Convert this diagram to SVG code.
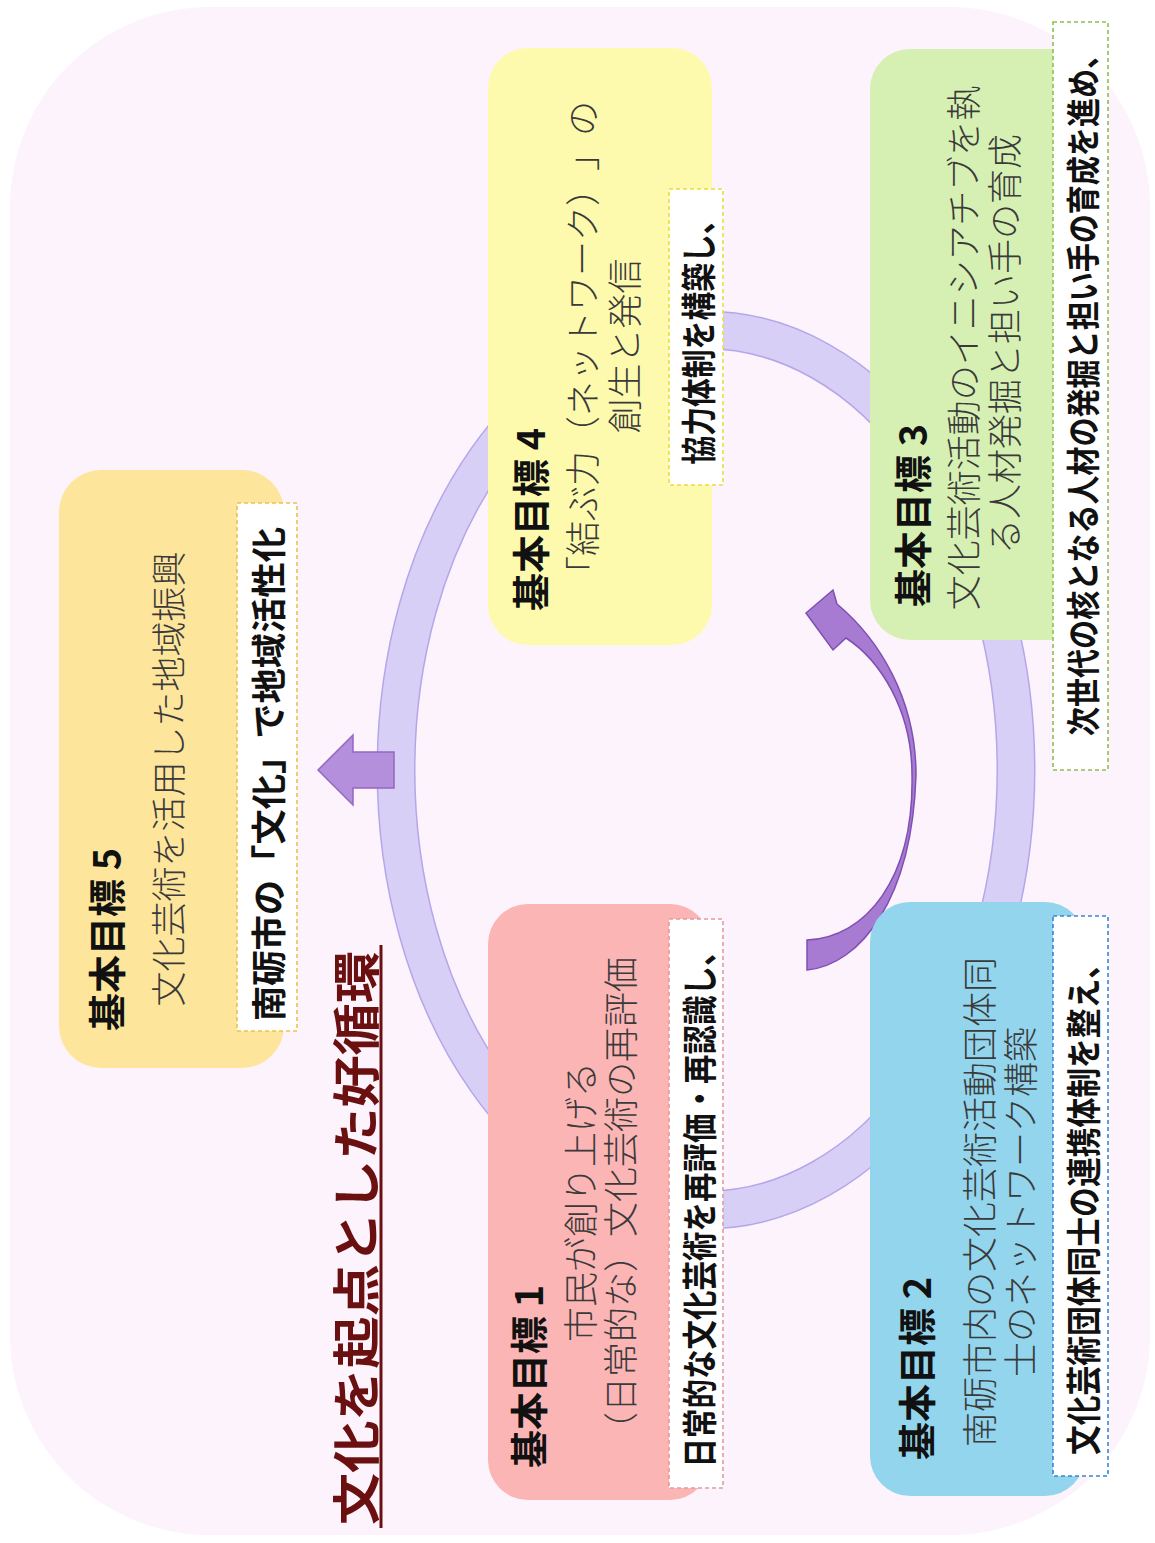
<svg xmlns="http://www.w3.org/2000/svg" width="1155" height="1543" viewBox="0 0 1155 1543">
<style>
text{font-family:"Noto Sans CJK JP","Noto Sans CJK SC",sans-serif;dominant-baseline:central;text-spacing-trim:space-all}
.ttl{font-size:38px;font-weight:700;fill:#111}
.body{font-size:35px;font-weight:300;fill:#3a3a3a}
.lbl{font-size:35px;font-weight:700;fill:#111}
.main{font-size:48px;font-weight:700;fill:#6b1010}
.lblbox{fill:#fff;stroke-width:1.6;stroke-dasharray:4 3}
.ring{fill:none}
.blk{fill:#b48fdc;stroke:#9467c4;stroke-width:1.5}
.crv{fill:#a77bd2;stroke:#7f4fb3;stroke-width:1.5}
</style>
<rect x="10" y="7" width="1140" height="1528" rx="200" ry="200" fill="#fcf3fc"/>

<g id="connectors">
  <ellipse class="ring" cx="706" cy="770" rx="310" ry="440" stroke="#b6a6e9" stroke-width="39"/>
  <ellipse class="ring" cx="706" cy="770" rx="310" ry="440" stroke="#d8cff7" stroke-width="36"/>
  <path class="blk" d="M318,770 L353,735 L353,752 L394,752 L394,788 L353,788 L353,805 Z"/>
  <path class="crv" d="M807,970 C860,965 912,900 916,775 C916,700 880,640 837,604 L833,590 L806,613 L833,650 L846,638 C880,660 912,710 912,775 C914,880 865,938 807,940 Z"/>
</g>

<g id="node-title">
  <text class="main" transform="translate(353,1238) rotate(-90)" text-anchor="middle" textLength="574" lengthAdjust="spacingAndGlyphs">文化を起点とした好循環</text>
  <line x1="381" y1="945" x2="381" y2="1528" stroke="#6b1010" stroke-width="3"/>
</g>

<g id="node-goal5">
  <rect x="59" y="470" width="225" height="598" rx="42" fill="#fde59c"/>
  <text class="ttl" transform="translate(104,1031) rotate(-90)">基本目標 5</text>
  <text class="body" transform="translate(166,779) rotate(-90)" text-anchor="middle">文化芸術を活用した地域振興</text>
  <rect class="lblbox" x="237" y="503" width="60" height="528" stroke="#eec24a"/>
  <text class="lbl" transform="translate(266,774) rotate(-90)" text-anchor="middle" textLength="494" lengthAdjust="spacingAndGlyphs">南砺市の「文化」で地域活性化</text>
</g>

<g id="node-goal4">
  <rect x="488" y="48" width="224" height="597" rx="40" fill="#fdfaae"/>
  <text class="ttl" transform="translate(528,611) rotate(-90)">基本目標 4</text>
  <text class="body" transform="translate(580,346) rotate(-90)" text-anchor="middle">「結ぶ力（ネットワーク）」の</text>
  <text class="body" transform="translate(622,346) rotate(-90)" text-anchor="middle">創生と発信</text>
  <rect class="lblbox" x="669" y="189" width="54" height="296" stroke="#eedc3a"/>
  <text class="lbl" transform="translate(696,335) rotate(-90)" text-anchor="middle" textLength="259" lengthAdjust="spacingAndGlyphs">協力体制を構築し、</text>
</g>

<g id="node-goal3">
  <rect x="870" y="49" width="225" height="591" rx="40" fill="#d6f0b3"/>
  <text class="ttl" transform="translate(910,607) rotate(-90)">基本目標 3</text>
  <text class="body" transform="translate(961,348) rotate(-90)" text-anchor="middle">文化芸術活動のイニシアチブを執</text>
  <text class="body" transform="translate(1002,344) rotate(-90)" text-anchor="middle">る人材発掘と担い手の育成</text>
  <rect class="lblbox" x="1053" y="22" width="55" height="748" stroke="#8cc050"/>
  <text class="lbl" style="font-size:34px" transform="translate(1081,388) rotate(-90)" text-anchor="middle" textLength="696" lengthAdjust="spacingAndGlyphs">次世代の核となる人材の発掘と担い手の育成を進め、</text>
</g>

<g id="node-goal1">
  <rect x="488" y="904" width="222" height="596" rx="40" fill="#fbb5b5"/>
  <text class="ttl" transform="translate(526,1468) rotate(-90)">基本目標 1</text>
  <text class="body" transform="translate(578,1202) rotate(-90)" text-anchor="middle">市民が創り上げる</text>
  <text class="body" transform="translate(618,1202) rotate(-90)" text-anchor="middle">（日常的な）文化芸術の再評価</text>
  <rect class="lblbox" x="669" y="919" width="54" height="569" stroke="#e49a9a"/>
  <text class="lbl" transform="translate(697,1202) rotate(-90)" text-anchor="middle" textLength="531" lengthAdjust="spacingAndGlyphs">日常的な文化芸術を再評価・再認識し、</text>
</g>

<g id="node-goal2">
  <rect x="870" y="902" width="215" height="594" rx="40" fill="#92d5ec"/>
  <text class="ttl" transform="translate(914,1460) rotate(-90)">基本目標 2</text>
  <text class="body" transform="translate(977,1202) rotate(-90)" text-anchor="middle">南砺市内の文化芸術活動団体同</text>
  <text class="body" transform="translate(1018,1202) rotate(-90)" text-anchor="middle">士のネットワーク構築</text>
  <rect class="lblbox" x="1053" y="916" width="55" height="560" stroke="#3a86d2"/>
  <text class="lbl" transform="translate(1081,1202) rotate(-90)" text-anchor="middle" textLength="506" lengthAdjust="spacingAndGlyphs">文化芸術団体同士の連携体制を整え、</text>
</g>
</svg>
